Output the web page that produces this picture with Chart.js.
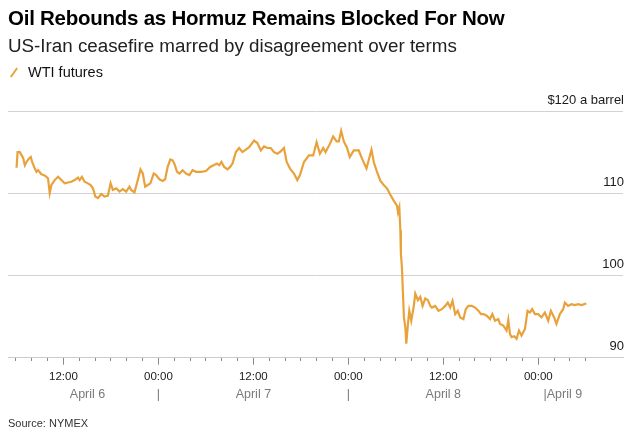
<!DOCTYPE html>
<html><head><meta charset="utf-8">
<script src="https://cdn.jsdelivr.net/npm/chart.js@4.4.1/dist/chart.umd.min.js"></script>
<style>
html,body{margin:0;padding:0;background:#fff;}
#wrap{position:relative;width:640px;height:439px;overflow:hidden;font-family:"Liberation Sans",Arial,sans-serif;}
#c{position:absolute;left:0;top:0;}
.t{position:absolute;left:8px;white-space:nowrap;color:#000;}
#title{top:6px;font-size:20.5px;font-weight:bold;letter-spacing:-0.25px;color:#000}
#sub{top:35px;font-size:18.8px;color:#222}
#leg{top:64px;left:28px;font-size:14.5px;color:#111}
#legicon{position:absolute;left:13px;top:67px;width:2px;height:11px;background:#E9A23B;transform:rotate(35deg);}
#src{top:417px;font-size:11px;color:#333}
</style></head><body>
<div id="wrap">
<canvas id="c" width="640" height="439"></canvas>
<div class="t" id="title">Oil Rebounds as Hormuz Remains Blocked For Now</div>
<div class="t" id="sub">US-Iran ceasefire marred by disagreement over terms</div>
<div id="legicon"></div>
<div class="t" id="leg">WTI futures</div>
<div class="t" id="src">Source: NYMEX</div>
</div>
<script>
// Hours since April 6 00:00
const hours = [6.08,6.21,6.50,6.91,7.13,7.34,7.63,7.88,8.05,8.39,
8.60,8.80,9.23,9.56,9.86,10.06,10.27,10.49,10.90,11.32,
11.75,12.16,12.58,13.01,13.42,13.84,14.05,14.34,14.68,15.10,
15.44,15.73,16.03,16.36,16.79,17.20,17.62,17.96,18.25,18.68,
19.09,19.51,19.93,20.35,20.56,20.98,21.40,21.74,22.03,22.33,
22.65,22.99,23.41,23.71,24.13,24.54,24.85,25.17,25.51,25.80,
26.02,26.36,26.65,27.06,27.49,27.91,28.32,28.75,29.38,30.01,
30.55,30.97,31.40,31.69,31.97,32.31,32.73,33.07,33.36,33.79,
34.20,34.62,35.05,35.46,36.09,36.51,36.94,37.35,37.77,38.20,
38.61,39.03,39.46,39.87,40.21,40.63,41.13,41.55,41.89,42.39,
43.02,43.56,43.99,44.41,44.82,45.12,45.67,46.08,46.51,46.80,
47.09,47.43,47.84,48.18,48.69,49.32,49.73,50.29,50.92,51.21,
51.62,52.05,52.47,52.88,53.31,53.73,54.14,54.27,54.44,54.57,
54.64,54.77,54.90,55.02,55.20,55.32,55.53,55.70,55.95,56.24,
56.46,56.79,57.09,57.38,57.72,58.05,58.35,58.55,58.98,59.39,
59.81,60.24,60.56,60.87,61.16,61.50,61.82,62.13,62.54,62.83,
63.17,63.59,64.02,64.43,64.77,65.06,65.48,65.90,66.19,66.53,
66.95,67.16,67.58,67.99,68.21,68.42,68.62,68.96,69.25,69.56,
69.88,70.31,70.64,70.94,71.23,71.57,71.99,72.40,72.83,73.25,
73.59,74.00,74.29,74.72,75.14,75.35,75.77,76.18,76.61,77.03,
77.44,78.07];
// WTI futures, $ a barrel
const prices = [113.1,115.0,115.0,114.3,113.4,113.8,114.2,114.4,113.8,113.0,
112.6,112.8,112.3,112.2,112.0,111.8,110.0,111.0,111.6,112.0,
111.6,111.2,111.3,111.4,111.6,111.9,111.6,112.0,111.4,111.2,
111.0,110.6,109.6,109.4,109.9,109.6,109.7,111.2,110.4,110.6,
110.2,110.5,110.2,110.8,110.4,110.1,111.6,112.9,112.4,110.8,
111.0,111.2,112.4,112.2,111.7,111.5,111.7,113.2,114.1,114.0,
113.6,112.6,112.4,112.8,112.4,112.2,112.8,112.6,112.6,112.7,
113.2,113.4,113.6,113.4,113.8,113.2,112.9,113.2,113.6,115.0,
115.5,115.0,115.3,115.6,116.4,116.1,115.2,115.7,115.5,115.5,
115.0,114.8,115.1,115.5,113.8,113.0,112.4,111.6,112.2,113.8,
114.6,114.6,116.2,114.8,115.5,115.0,116.0,116.9,116.3,116.3,
117.6,116.3,115.5,114.4,115.2,115.2,114.2,113.0,115.3,113.8,
112.6,111.5,111.0,110.6,109.8,109.1,108.5,107.7,108.3,105.5,
102.6,101.0,97.8,94.9,93.7,91.7,94.1,95.7,94.5,96.1,
97.8,97.0,97.4,96.3,97.2,97.0,96.3,96.1,96.3,95.7,
95.9,96.3,96.7,96.1,96.9,95.3,95.7,94.9,94.7,95.9,
96.3,96.3,96.1,95.7,95.3,95.3,95.1,94.7,95.3,94.5,
94.7,94.1,93.9,93.3,94.6,92.9,92.5,92.6,92.3,93.3,
92.7,93.5,95.7,95.5,95.9,95.3,95.3,94.9,95.5,94.5,
95.7,94.9,94.1,95.3,95.9,96.7,96.3,96.5,96.4,96.5,
96.4,96.6];

const tickHours = [6,8,10,12,14,16,18,20,22,24,26,28,30,32,34,36,38,40,42,44,46,48,50,52,54,56,58,60,62,64,66,68,70,72,74,76,78];
const timeLabelHours = [12,24,36,48,60,72];
const timeLabels = ['12:00','00:00','12:00','00:00','12:00','00:00'];
const dateLabelHours = [15.05,24,36,48,60,75.1];
const dateLabels = ['April 6','|','April 7','|','April 8','|April 9'];
const yTicks = [90,100,110,120];
const yLabels = ['90','100','110','$120 a barrel'];

const FONT = '"Liberation Sans", Arial, sans-serif';
const X_MIN = 5, X_MAX = 82.7;

new Chart(document.getElementById('c'), {
  type: 'line',
  data: {
    datasets: [{
      label: 'WTI futures',
      data: hours.map((h, i) => ({x: h, y: prices[i]})),
      borderColor: '#E9A23B',
      borderWidth: 2.2,
      pointRadius: 0,
      tension: 0,
      fill: false,
      xAxisID: 'x',
      yAxisID: 'y'
    }]
  },
  options: {
    responsive: false,
    devicePixelRatio: 1,
    animation: false,
    layout: { padding: { left: 8, right: 15, top: 111, bottom: 38 } },
    plugins: { legend: { display: false }, tooltip: { enabled: false }, title: { display: false } },
    scales: {
      x: {
        type: 'linear', position: 'bottom', min: X_MIN, max: X_MAX,
        afterBuildTicks: s => { s.ticks = tickHours.map(v => ({value: v})); },
        ticks: {
          autoSkip: false, maxRotation: 0, minRotation: 0, padding: 5,
          color: '#1a1a1a', font: { size: 11.5, family: FONT },
          callback: v => { const i = timeLabelHours.indexOf(v); return i >= 0 ? timeLabels[i] : ''; }
        },
        grid: {
          drawOnChartArea: false, drawTicks: true, tickLength: 7,
          tickColor: '#8a8a8a', tickWidth: 1,
          tickBorderDash: ctx => (ctx.tick && timeLabelHours.indexOf(ctx.tick.value) >= 0) ? [] : [3, 20]
        },
        border: { display: true, color: '#cccccc', width: 1 }
      },
      xDate: {
        type: 'linear', position: 'bottom', min: X_MIN, max: X_MAX,
        afterBuildTicks: s => { s.ticks = dateLabelHours.map(v => ({value: v})); },
        ticks: {
          autoSkip: false, maxRotation: 0, minRotation: 0, padding: 0,
          color: '#7a7a7a', font: { size: 12.5, family: FONT, lineHeight: 1.0 },
          callback: v => { const i = dateLabelHours.indexOf(v); return i >= 0 ? dateLabels[i] : ''; }
        },
        grid: { display: false, drawTicks: false },
        border: { display: false }
      },
      y: {
        type: 'linear', position: 'right', min: 90, max: 120,
        afterBuildTicks: s => { s.ticks = yTicks.map(v => ({value: v})); },
        ticks: {
          mirror: true, padding: 1, labelOffset: -11,
          color: '#1a1a1a', font: { size: 13, family: FONT },
          callback: v => { const i = yTicks.indexOf(v); return i >= 0 ? yLabels[i] : ''; }
        },
        grid: { color: '#d2d2d2', lineWidth: 1, drawTicks: false },
        border: { display: false }
      }
    }
  }
});
</script>
</body></html>
